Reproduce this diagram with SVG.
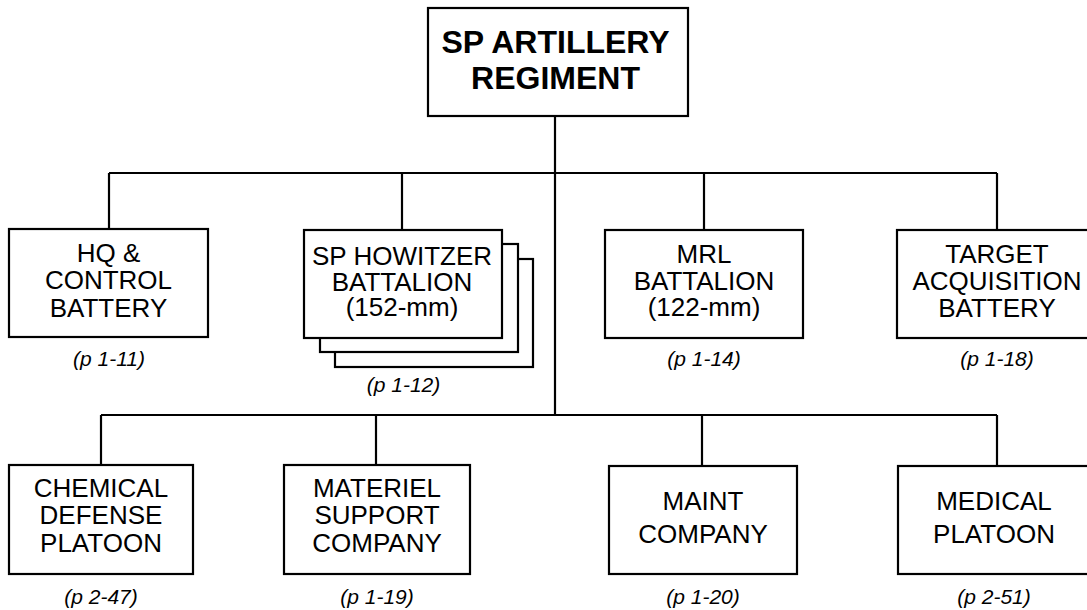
<svg xmlns="http://www.w3.org/2000/svg" width="1087" height="610" viewBox="0 0 1087 610">
<style>
.box{fill:#fff;stroke:#000;stroke-width:2.2}
.ln{stroke:#000;stroke-width:2.2;fill:none}
.t{font-family:"Liberation Sans",Arial,sans-serif;font-size:26px;text-anchor:middle;fill:#000}
.title{font-family:"Liberation Sans",Arial,sans-serif;font-size:32px;font-weight:bold;text-anchor:middle;fill:#000}
.ref{font-family:"Liberation Sans",Arial,sans-serif;font-size:21px;font-style:italic;text-anchor:middle;fill:#000}
</style>
<rect width="1087" height="610" fill="#fff"/>
<g id="connectors" class="ln">
<line x1="555" y1="116" x2="555" y2="415"/>
<line x1="109" y1="173" x2="997" y2="173"/>
<line x1="109" y1="173" x2="109" y2="229"/>
<line x1="402" y1="173" x2="402" y2="230"/>
<line x1="704" y1="173" x2="704" y2="230"/>
<line x1="997" y1="173" x2="997" y2="230"/>
<line x1="101" y1="415" x2="997" y2="415"/>
<line x1="101" y1="415" x2="101" y2="465"/>
<line x1="376" y1="415" x2="376" y2="465"/>
<line x1="702" y1="415" x2="702" y2="466"/>
<line x1="997" y1="415" x2="997" y2="466"/>
</g>
<g id="regiment">
<rect class="box" x="428" y="8" width="260" height="108"/>
<text class="title" x="555.5" y="53">SP ARTILLERY</text>
<text class="title" x="555.5" y="89">REGIMENT</text>
</g>
<g id="hq">
<rect class="box" x="9" y="229" width="199" height="108"/>
<text class="t" x="108.5" y="262">HQ &amp;</text>
<text class="t" x="108.5" y="289">CONTROL</text>
<text class="t" x="108.5" y="317">BATTERY</text>
<text class="ref" x="109" y="366">(p 1-11)</text>
</g>
<g id="howitzer">
<rect class="box" x="335" y="259" width="198" height="108"/>
<rect class="box" x="320" y="244" width="198" height="108"/>
<rect class="box" x="304" y="230" width="198" height="108"/>
<text class="t" x="402" y="265">SP HOWITZER</text>
<text class="t" x="402" y="291">BATTALION</text>
<text class="t" x="402" y="316">(152-mm)</text>
<text class="ref" x="403.5" y="392">(p 1-12)</text>
</g>
<g id="mrl">
<rect class="box" x="605" y="230" width="198" height="108"/>
<text class="t" x="704" y="263">MRL</text>
<text class="t" x="704" y="290">BATTALION</text>
<text class="t" x="704" y="316">(122-mm)</text>
<text class="ref" x="704" y="366">(p 1-14)</text>
</g>
<g id="target">
<rect class="box" x="897" y="230" width="198" height="108"/>
<text class="t" x="997" y="263">TARGET</text>
<text class="t" x="997" y="290">ACQUISITION</text>
<text class="t" x="997" y="317">BATTERY</text>
<text class="ref" x="997" y="366">(p 1-18)</text>
</g>
<g id="chemical">
<rect class="box" x="9" y="465" width="184" height="109"/>
<text class="t" x="101" y="497">CHEMICAL</text>
<text class="t" x="101" y="524">DEFENSE</text>
<text class="t" x="101" y="552">PLATOON</text>
<text class="ref" x="101" y="604">(p 2-47)</text>
</g>
<g id="materiel">
<rect class="box" x="284" y="465" width="186" height="109"/>
<text class="t" x="377" y="497">MATERIEL</text>
<text class="t" x="377" y="524">SUPPORT</text>
<text class="t" x="377" y="552">COMPANY</text>
<text class="ref" x="377" y="604">(p 1-19)</text>
</g>
<g id="maint">
<rect class="box" x="609" y="466" width="188" height="108"/>
<text class="t" x="703" y="510">MAINT</text>
<text class="t" x="703" y="543">COMPANY</text>
<text class="ref" x="703" y="604">(p 1-20)</text>
</g>
<g id="medical">
<rect class="box" x="898" y="466" width="192" height="108"/>
<text class="t" x="994" y="510">MEDICAL</text>
<text class="t" x="994" y="543">PLATOON</text>
<text class="ref" x="994" y="604">(p 2-51)</text>
</g>
</svg>
